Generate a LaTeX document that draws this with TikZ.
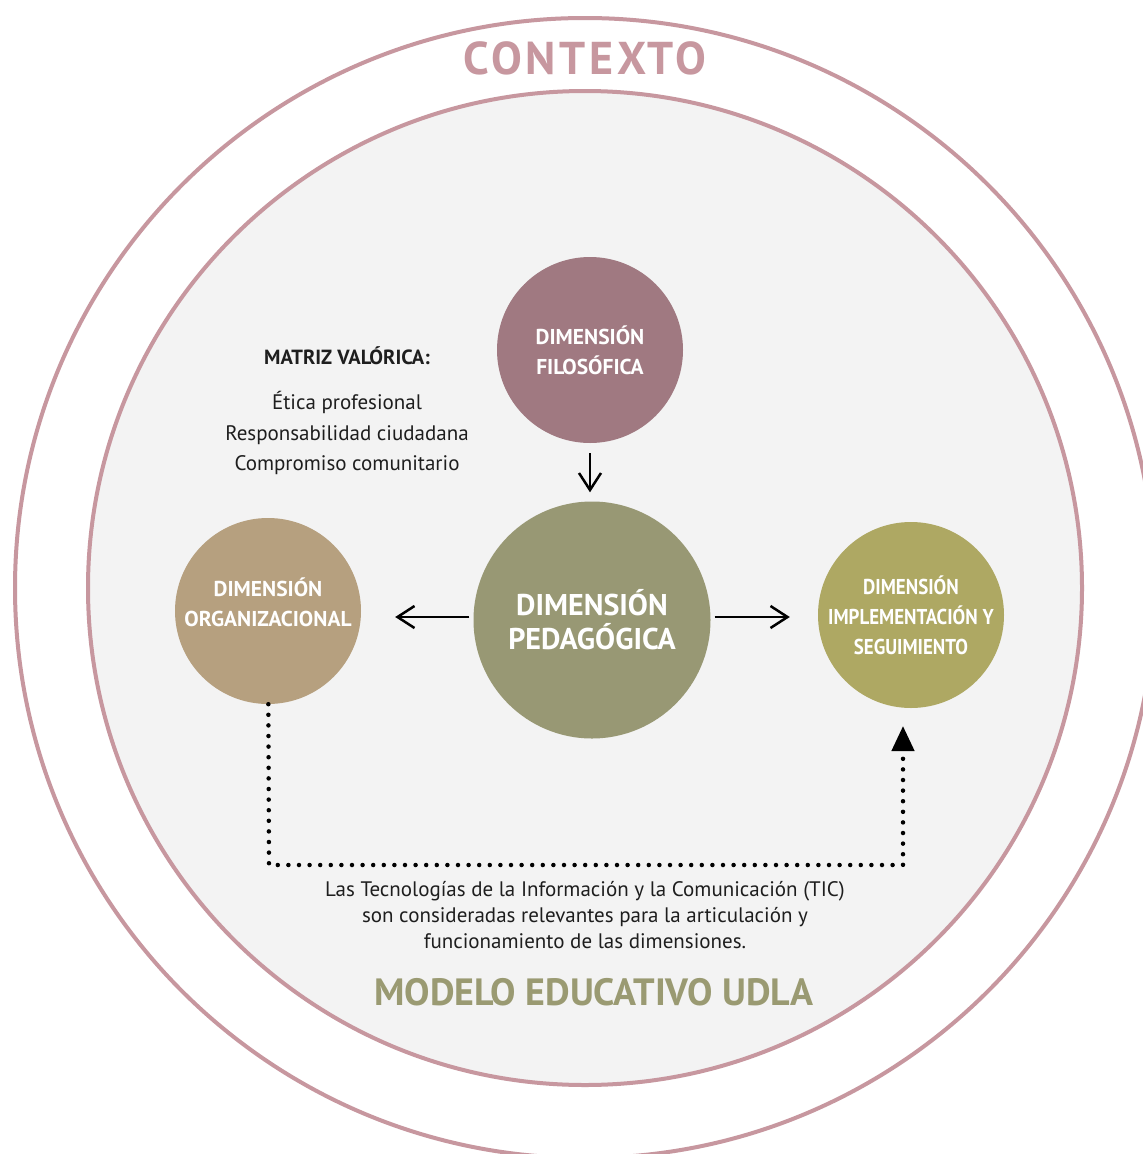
\documentclass[tikz,border=0pt]{standalone}
\usepackage{fontspec}
\setmainfont{PT Sans}
\newfontfamily\widefont{PT Sans}[LetterSpace=8]
\newfontfamily\narrowfont{PT Sans}[FakeStretch=0.88]
\usepackage{tikz}
\usetikzlibrary{arrows.meta}
\usetikzlibrary{positioning}
\definecolor{contexto}{HTML}{C7979F}
\definecolor{fondo}{HTML}{F3F3F3}
\definecolor{filo}{HTML}{A07981}
\definecolor{peda}{HTML}{989874}
\definecolor{orga}{HTML}{B6A07F}
\definecolor{impl}{HTML}{AEA863}
\definecolor{modelo}{HTML}{9A9A72}
\definecolor{texto}{HTML}{1E1E1E}

\begin{document}
\begin{tikzpicture}
      [
      x=1pt,y=-1pt,
      ring/.style={draw=contexto,line width=4pt},
      dimtext/.style={text=white,align=center,font=\bfseries\fontsize{21.5}{30}\selectfont},
      dim/.style={dimtext,circle,inner sep=0pt,minimum size=186pt},
      flow/.style={line width=2.5pt,-{Straight Barb[length=17pt,width=22pt]}},
      tic/.style={line width=4.5pt,line cap=round,dash pattern=on 0pt off 10.6pt,-{Triangle[width=22pt,length=25pt]}}
      ]
      \useasboundingbox (0,0) rectangle (1143,1154);
      \clip (0,0) rectangle (1143,1154);
      \fill[white] (0,0) rectangle (1143,1154);
      \draw [ring] (585,588) circle [radius=570pt];
      \draw [ring,fill=fondo] (585,588) circle [radius=497pt];
      \node (contexto) at (585,58) [text=contexto,font=\widefont\bfseries\fontsize{46}{50}\selectfont] {CONTEXTO};
      \node (filo) at (590,350) [dim,fill=filo] {DIMENSIÓN\\FILOSÓFICA};
      \node (peda) at (592,620) [dim,fill=peda,minimum size=237pt,font=\bfseries\fontsize{30}{34}\selectfont] {DIMENSIÓN\\PEDAGÓGICA};
      \node (orga) at (268,611) [dim,fill=orga] {};
      \node (orgatext) at ([yshift=9pt]orga.center) [dimtext] {DIMENSIÓN\\ORGANIZACIONAL};
      \node (impl) at (911,615) [dim,fill=impl,font=\narrowfont\bfseries\fontsize{21.5}{30}\selectfont] {DIMENSIÓN\\IMPLEMENTACIÓN Y\\SEGUIMIENTO};
      \node (matriz) at (347,356) [text=texto,font=\bfseries\fontsize{20.5}{24}\selectfont] {MATRIZ VALÓRICA:};
      \node (valores) at (347,433) [text=texto,align=center,font=\fontsize{21}{30.5}\selectfont] {Ética profesional\\Responsabilidad ciudadana\\Compromiso comunitario};
      \node (tic) at (585,915) [text=texto,align=center,font=\fontsize{21}{26}\selectfont] {Las Tecnologías de la Información y la Comunicación (TIC)\\son consideradas relevantes para la articulación y\\funcionamiento de las dimensiones.};
      \node (modelo) at (594,992) [text=modelo,font=\bfseries\fontsize{38}{42}\selectfont] {MODELO EDUCATIVO UDLA};
      \coordinate (c1) at (269,865);
      \coordinate (c2) at (903,865);
      \coordinate (c3) at (903,726);
      \draw [flow, shorten <=10pt, shorten >=9pt] (filo.south) -- (filo.south |- peda.north);
      \draw [flow, shorten <=4pt, shorten >=34pt] ([yshift=3pt]peda.west) -- ([yshift=3pt]peda.west -| orga.east);
      \draw [flow, shorten <=4pt, shorten >=28pt] ([yshift=3pt]peda.east) -- ([yshift=3pt]peda.east -| impl.west);
      \draw [tic] (orga) -- (c1) -- (c2) -- (c3);
    \end{tikzpicture}
\end{document}
